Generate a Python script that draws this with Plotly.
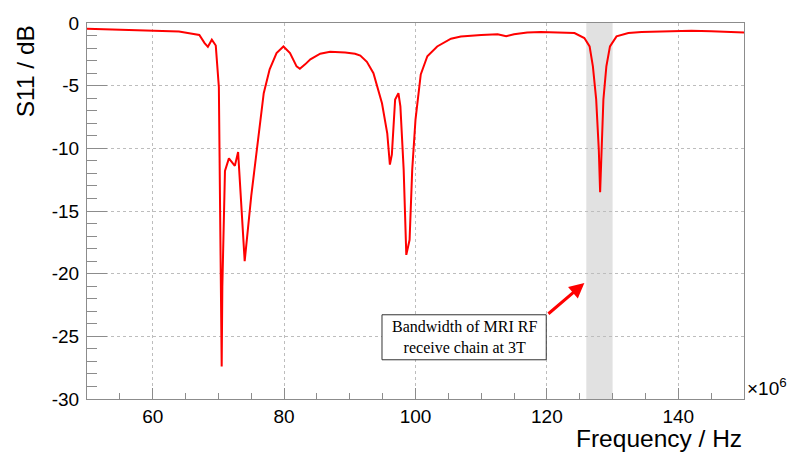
import plotly.graph_objects as go

# Frequency in MHz (axis shows x10^6 Hz)
freq = [50, 55, 58.6, 62, 64, 66, 67.1, 67.9, 68.4, 69.0, 69.6, 70.07, 70.3, 70.43, 70.5,
        70.6, 71.0, 71.6, 72.5, 73.0, 73.2, 74.0, 75.0, 75.9, 76.9, 77.8, 78.85, 79.9, 80.9,
        81.9, 82.4, 83.2, 84.0, 85.5, 87.0, 89.3, 90.8, 91.6, 92.6, 93.6, 94.9, 95.7, 96.1,
        96.4, 96.9, 97.4, 97.7, 98.2, 98.6, 99.1, 99.5, 100.0, 100.8, 101.8, 103.3, 105.4,
        106.9, 110, 112.5, 113.8, 115, 117, 119.1, 124.2, 125.7, 126.5, 127.0, 127.5, 127.9,
        128.1, 128.3, 128.6, 129.05, 129.6, 130.6, 132.4, 134.4, 137.2, 140, 142, 145, 150]
s11 = [-0.45, -0.53, -0.59, -0.62, -0.67, -0.85, -0.95, -1.6, -1.9, -1.33, -1.8, -5.1, -16.2,
       -20.7, -27.4, -21.0, -11.8, -10.8, -11.4, -10.3, -12.2, -19.0, -13.8, -9.85, -5.6, -3.7,
       -2.4, -1.87, -2.4, -3.46, -3.65, -3.3, -2.9, -2.45, -2.3, -2.35, -2.45, -2.6, -3.1, -4.0,
       -6.4, -8.8, -11.3, -10.5, -6.1, -5.6, -6.65, -11.7, -18.5, -17.3, -11.7, -7.7, -4.1,
       -2.65, -1.87, -1.25, -1.07, -0.95, -0.9, -1.05, -0.9, -0.75, -0.72, -0.8, -1.2, -1.87,
       -3.46, -6.1, -10.1, -13.5, -10.1, -6.1, -3.46, -1.87, -1.07, -0.8, -0.72, -0.67, -0.65,
       -0.62, -0.65, -0.75]

x_ticks = [60, 80, 100, 120, 140]
x_ticklabels = ["60", "80", "100", "120", "140"]
y_ticks = [0, -5, -10, -15, -20, -25, -30]
y_ticklabels = ["0", "-5", "-10", "-15", "-20", "-25", "-30"]

band = [126, 130]          # MRI RF receive chain bandwidth (MHz)
x_range = [50, 150]
y_range = [-30, 0]
note_text = "Bandwidth of MRI RF<br>receive chain at 3T"
note_box = [94.9, 119.9, -23.28, -26.87]   # x0, x1, y0, y1
arrow_tip = [125.7, -20.75]
arrow_tail = [120.0, -23.3]

grey = "#8c8c8c"
font_sans = "Liberation Sans, Arial, sans-serif"

fig = go.Figure()
fig.add_trace(go.Scatter(x=freq, y=s11, mode="lines",
                         line=dict(color="#ff0000", width=2), hoverinfo="skip"))

fig.add_shape(type="rect", xref="x", yref="paper", x0=band[0], x1=band[1], y0=0, y1=1,
              fillcolor="#e1e1e1", line=dict(width=0), layer="below")
fig.add_shape(type="rect", xref="x", yref="y", x0=note_box[0], x1=note_box[1],
              y0=note_box[2], y1=note_box[3], fillcolor="white",
              line=dict(color="#333333", width=1))

fig.add_annotation(x=(note_box[0] + note_box[1]) / 2, y=(note_box[2] + note_box[3]) / 2,
                   xref="x", yref="y", text=note_text, showarrow=False, align="center",
                   font=dict(family="Liberation Serif, Times New Roman, serif", size=16,
                             color="black"))
fig.add_annotation(x=arrow_tip[0], y=arrow_tip[1], ax=arrow_tail[0], ay=arrow_tail[1],
                   xref="x", yref="y", axref="x", ayref="y", text="", showarrow=True,
                   arrowhead=2, arrowsize=1, arrowwidth=3, arrowcolor="#ff0000")

fig.add_annotation(x=-0.094, y=1, xref="paper", yref="paper", text="S11 / dB",
                   textangle=-90, showarrow=False, xanchor="center", yanchor="top",
                   font=dict(family=font_sans, size=24.5, color="black"))
fig.add_annotation(x=1, y=-0.104, xref="paper", yref="paper", text="Frequency / Hz",
                   showarrow=False, xanchor="right", yanchor="middle",
                   font=dict(family=font_sans, size=24.5, color="black"))
fig.add_annotation(x=1, y=0, xref="paper", yref="paper", text="×10<sup>6</sup>",
                   showarrow=False, xanchor="left", yanchor="bottom", xshift=1, yshift=-2,
                   font=dict(family=font_sans, size=19, color="black"))

fig.update_layout(
    width=800, height=460,
    margin=dict(l=87, r=56, t=23, b=61, autoexpand=False),
    paper_bgcolor="white", plot_bgcolor="white",
    showlegend=False,
    font=dict(family=font_sans, size=19, color="black"),
    xaxis=dict(range=x_range, tickvals=x_ticks, ticktext=x_ticklabels, automargin=False,
               ticks="inside", ticklen=11,
               tickcolor=grey, showline=True, linecolor=grey, linewidth=1, mirror=True,
               showgrid=True, gridcolor="#bdbdbd", griddash="dot", gridwidth=1,
               zeroline=False,
               minor=dict(dtick=5, tick0=0, ticks="inside", ticklen=6, tickcolor=grey,
                          showgrid=False)),
    yaxis=dict(range=y_range, tickvals=y_ticks, ticktext=y_ticklabels, automargin=False,
               ticks="inside", ticklen=20, ticklabelstandoff=3,
               tickcolor=grey, showline=True, linecolor=grey, linewidth=1, mirror=True,
               showgrid=True, gridcolor="#bdbdbd", griddash="dot", gridwidth=1,
               zeroline=False,
               minor=dict(dtick=1, tick0=0, ticks="inside", ticklen=10, tickcolor=grey,
                          showgrid=False)),
)

fig.write_html("out.html", config={"displayModeBar": False},
               post_script="document.body.style.margin='0';")
